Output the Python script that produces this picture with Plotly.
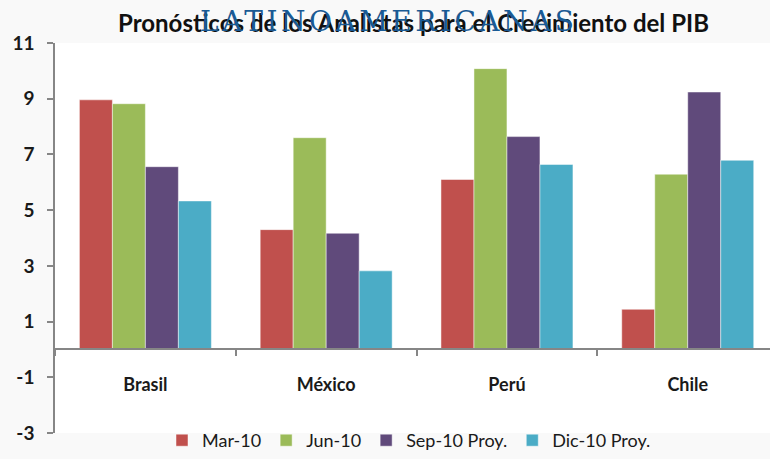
import plotly.graph_objects as go

categories = ["Brasil", "México", "Perú", "Chile"]
series_names = ["Mar-10", "Jun-10", "Sep-10 Proy.", "Dic-10 Proy."]
mar_10 = [8.96, 4.30, 6.10, 1.44]
jun_10 = [8.82, 7.60, 10.08, 6.29]
sep_10 = [6.56, 4.17, 7.64, 9.24]
dic_10 = [5.33, 2.82, 6.64, 6.79]
colors = ["#C0504D", "#9BBB59", "#604A7B", "#4BACC6"]
y_ticks = [-3, -1, 1, 3, 5, 7, 9, 11]
y_tick_labels = ["-3", "-1", "1", "3", "5", "7", "9", "11"]

title_text = "Pronósticos de los Analistas para el Crecimiento del PIB"
watermark_text = "LATINOAMERICANAS"

W, H = 770, 459
ML, MT, MB, MR = 55, 43, 23, 0
PW = W - ML - MR
PH = H - MT - MB

fig = go.Figure()
for name, vals, col in zip(series_names, [mar_10, jun_10, sep_10, dic_10], colors):
    fig.add_trace(go.Bar(
        x=categories, y=vals, name=name,
        marker=dict(color=col, line=dict(color="rgba(255,255,255,0.6)", width=0.8)),
    ))

ymin, ymax = -3, 11
fig.update_layout(
    width=W, height=H,
    margin=dict(l=ML, r=MR, t=MT, b=MB, pad=0),
    paper_bgcolor="#f9f9f9",
    plot_bgcolor="#ffffff",
    barmode="group",
    bargap=0.27,
    bargroupgap=0,
    font=dict(family="Lato, Open Sans, sans-serif", color="#1a1a1a"),
    showlegend=True,
    legend=dict(
        orientation="h", x=(409 - 55) / PW, xanchor="center", y=-8 / PH, yanchor="middle",
        font=dict(size=18, family="Lato, sans-serif", color="#1a1a1a"),
        bgcolor="rgba(0,0,0,0)", traceorder="normal",
    ),
    xaxis=dict(
        type="category", range=[-0.5, 3.455],
        anchor="free", position=(0 - ymin) / (ymax - ymin),
        showline=True, linecolor="#868686", linewidth=2,
        ticks="outside", tickson="boundaries", ticklen=6, tickcolor="#868686", tickwidth=1.5,
        tickfont=dict(size=18, family="Lato, sans-serif", color="#1a1a1a", weight="bold"),
        ticklabelstandoff=19,
        showgrid=False, zeroline=False,
    ),
    yaxis=dict(
        range=[ymin, ymax], tickvals=y_ticks, ticktext=y_tick_labels,
        showline=True, linecolor="#868686", linewidth=1.5,
        ticks="outside", ticklen=6, tickcolor="#868686", tickwidth=1.5,
        tickfont=dict(size=19, family="Lato, sans-serif", color="#1a1a1a", weight="bold"),
        ticklabelstandoff=9,
        showgrid=False, zeroline=False,
    ),
    annotations=[
        dict(text=title_text, xref="paper", yref="paper", x=(413 - 55) / PW, y=1 + 21 / PH,
             xanchor="center", yanchor="middle", showarrow=False,
             font=dict(size=24, family="Lato, sans-serif", color="#111111", weight="bold")),
        dict(text='<span style="letter-spacing:3.5px">' + watermark_text + '</span>',
             xref="paper", yref="paper", x=(389 - 55) / PW, y=1 + 22 / PH,
             xanchor="center", yanchor="middle", showarrow=False,
             font=dict(size=28, family="DejaVu Serif, serif", color="#1a5a94")),
    ],
)

fig.write_html(
    "out.html",
    config={"displayModeBar": False},
    post_script="document.body.style.margin='0';document.body.style.padding='0';",
)
